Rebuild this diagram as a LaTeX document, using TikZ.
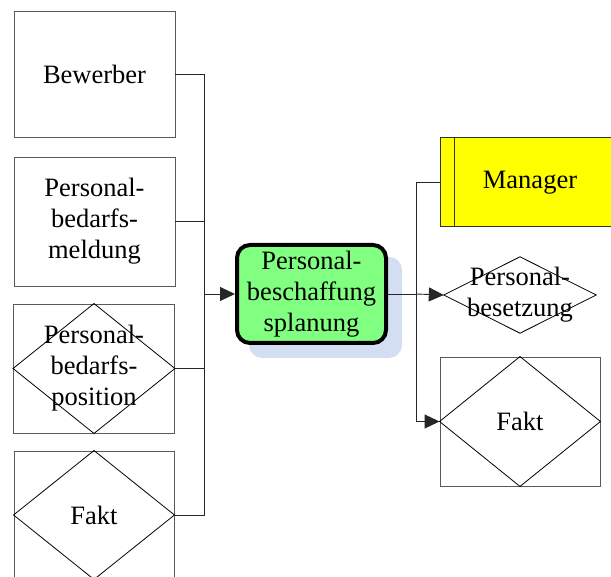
\documentclass[tikz,border=0pt]{standalone}
\usepackage{fontspec}
\setmainfont{Liberation Serif}
\newfontfamily\labelfont{Liberation Serif}
\usetikzlibrary{arrows.meta}
\definecolor{procgreen}{RGB}{128,255,128}
\definecolor{orgyellow}{RGB}{255,255,0}
\definecolor{shadowblue}{RGB}{212,222,242}
\definecolor{boxgray}{RGB}{90,90,90}
\tikzset{
  every node/.style={font=\labelfont\fontsize{26.5}{31}\selectfont, align=center},
  objbox/.style={draw=boxgray, line width=0.9pt, inner sep=0pt},
  rhomb/.style={draw=black, line width=0.8pt},
  link/.style={draw=black!85, line width=0.9pt},
  flow/.style={link, -{Triangle[length=15pt,width=14pt]}},
  proc/.style={draw=black, line width=4pt, rounded corners=13pt, fill=procgreen, inner sep=0pt},
  orgunit/.style={draw=black!80, line width=1.2pt, fill=orgyellow, inner sep=0pt}
}
\begin{document}
\begin{tikzpicture}[x=1pt, y=-1pt]
  \useasboundingbox (0,0) rectangle (611,577);
  \clip (0,0) rectangle (611,577);

  % input objects on the left
  \node[objbox, minimum width=161pt, minimum height=126pt] (bew) at (94.5,74) {Bewerber};
  \node[objbox, minimum width=161pt, minimum height=129pt] (meld) at (94.5,221.5) {Personal-\\bedarfs-\\meldung};
  \node[objbox, minimum width=161pt, minimum height=129pt] (pos) at (94,368.5) {Personal-\\bedarfs-\\position};
  \draw[rhomb] (pos.north) -- (pos.east) -- (pos.south) -- (pos.west) -- cycle;
  \node[objbox, minimum width=160pt, minimum height=128pt] (faktl) at (94,515) {Fakt};
  \draw[rhomb] (faktl.north) -- (faktl.east) -- (faktl.south) -- (faktl.west) -- cycle;

  % function with its shadow
  \fill[shadowblue, rounded corners=13pt] (249,257) rectangle (402,358);
  \node[proc, minimum width=149pt, minimum height=98pt] (plan) at (311.5,294) {Personal-\\beschaffung\\splanung};

  % outputs on the right
  \node[orgunit, minimum width=200pt, minimum height=89pt, anchor=west] (mgr) at (439.5,182) {};
  \draw[black!80, line width=1.2pt] ([xshift=15pt]mgr.north west) -- ([xshift=15pt]mgr.south west);
  \node (mgrtext) at (530,183) {Manager};

  \node[minimum width=152pt, minimum height=76pt, inner sep=0pt] (bes) at (520,295) {Personal-\\besetzung};
  \draw[rhomb] (bes.north) -- (bes.east) -- (bes.south) -- (bes.west) -- cycle;

  \node[objbox, minimum width=160pt, minimum height=129pt] (faktr) at (520,421.5) {Fakt};
  \draw[rhomb] (faktr.north) -- (faktr.east) -- (faktr.south) -- (faktr.west) -- cycle;

  % collecting connector from the inputs
  \coordinate (inbus) at (204,294);
  \draw[link] (bew.east) -| (inbus);
  \draw[link] (meld.east) -| (inbus);
  \draw[link] (pos.east) -| (inbus);
  \draw[link] (faktl.east) -| (inbus);
  \draw[flow] (inbus) -- (plan.west);

  % distributing connector to the outputs
  \coordinate (outbus) at (416,294);
  \draw[link] (plan.east) -- (outbus);
  \draw[link] (outbus) |- (mgr.west);
  \draw[flow] (outbus) -- (bes.west);
  \draw[flow] (outbus) |- (faktr.west);
\end{tikzpicture}
\end{document}
